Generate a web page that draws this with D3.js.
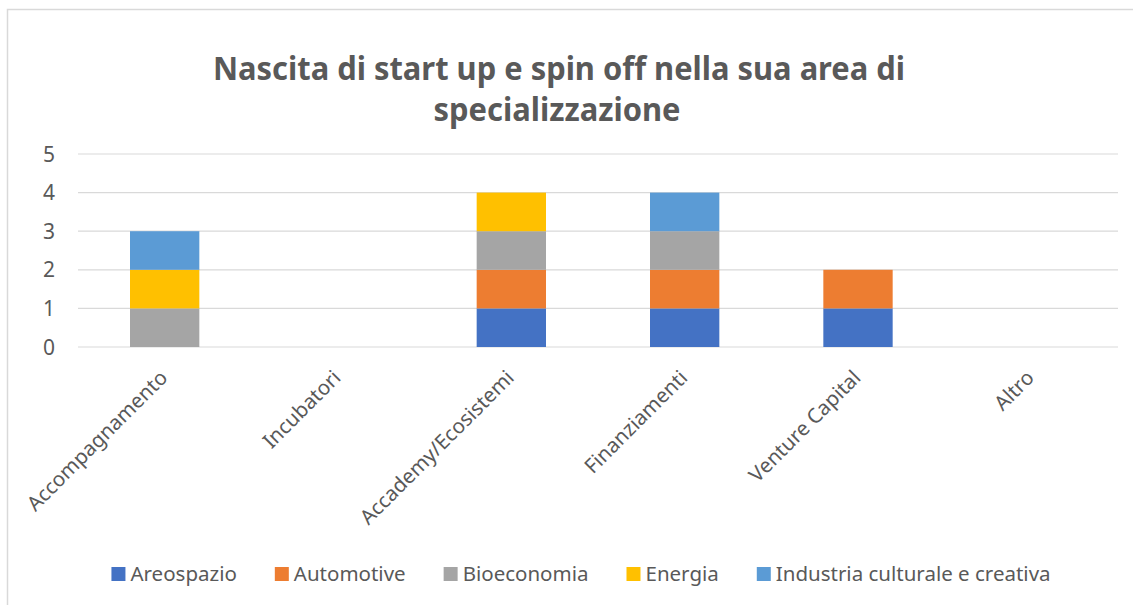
<!DOCTYPE html>
<html>
<head>
<meta charset="utf-8">
<script src="https://cdn.jsdelivr.net/npm/d3@7"></script>
<style>
  html, body { margin: 0; padding: 0; background: #fff; }
  svg { display: block; }
  text { font-family: "Noto Sans", "Open Sans", sans-serif; fill: #595959; }
</style>
</head>
<body>
<svg id="chart" width="1133" height="605"></svg>
<script>
const titleLines = ["Nascita di start up e spin off nella sua area di", "specializzazione"];
const categories = ["Accompagnamento", "Incubatori", "Accademy/Ecosistemi", "Finanziamenti", "Venture Capital", "Altro"];
const seriesNames = ["Areospazio", "Automotive", "Bioeconomia", "Energia", "Industria culturale e creativa"];
const areospazio = [0, 0, 1, 1, 1, 0];
const automotive = [0, 0, 1, 1, 1, 0];
const bioeconomia = [1, 0, 1, 1, 0, 0];
const energia = [1, 0, 1, 0, 0, 0];
const industria = [1, 0, 0, 1, 0, 0];
const yTicks = [0, 1, 2, 3, 4, 5];
const colors = ["#4472C4", "#ED7D31", "#A5A5A5", "#FFC000", "#5B9BD5"];

const seriesValues = [areospazio, automotive, bioeconomia, energia, industria];
const rows = categories.map((c, i) => {
  const r = { cat: c };
  seriesNames.forEach((s, j) => { r[s] = seriesValues[j][i]; });
  return r;
});

const svg = d3.select("#chart");

// outer frame
svg.append("rect")
  .attr("x", 7.5).attr("y", 9.5)
  .attr("width", 1140).attr("height", 610)
  .attr("fill", "#fff")
  .attr("stroke", "#d9d9d9").attr("stroke-width", 1.5);

const plot = { left: 78, right: 1118, top: 154, bottom: 347 };

const x = d3.scaleBand().domain(categories).range([plot.left, plot.right]).paddingInner(0.6).paddingOuter(0.3);
const y = d3.scaleLinear().domain([0, 5]).range([plot.bottom, plot.top]);

// gridlines
svg.append("g").selectAll("line").data(yTicks).join("line")
  .attr("x1", plot.left).attr("x2", plot.right)
  .attr("y1", d => y(d)).attr("y2", d => y(d))
  .attr("stroke", "#d9d9d9").attr("stroke-width", 1.2);

// y tick labels
svg.append("g").selectAll("text").data(yTicks).join("text")
  .attr("x", 55).attr("y", d => y(d))
  .attr("dy", "0.36em")
  .attr("text-anchor", "end")
  .style("font-size", "21px")
  .text(d => d);

// stacked bars
const stack = d3.stack().keys(seriesNames)(rows);
svg.append("g").selectAll("g").data(stack).join("g")
  .attr("fill", (d, i) => colors[i])
  .selectAll("rect").data(d => d.filter(s => s[1] - s[0] > 0)).join("rect")
  .attr("x", d => x(d.data.cat))
  .attr("width", x.bandwidth())
  .attr("y", d => y(d[1]))
  .attr("height", d => y(d[0]) - y(d[1]));

// category labels
svg.append("g").selectAll("text").data(categories).join("text")
  .attr("text-anchor", "end")
  .attr("transform", d => `translate(${x(d) + x.bandwidth() / 2 + 4},${379}) rotate(-45)`)
  .style("font-size", "20.5px")
  .text(d => d);

// title
const title = svg.append("g");
const tl1 = title.append("text")
  .attr("x", 559).attr("y", 80)
  .attr("text-anchor", "middle")
  .style("font-size", "32px").style("font-weight", "bold")
  .text(titleLines[0]);
const tl2 = title.append("text")
  .attr("x", 557).attr("y", 121)
  .attr("text-anchor", "middle")
  .style("font-size", "32px").style("font-weight", "bold")
  .text(titleLines[1]);
[[tl1, 692], [tl2, 247]].forEach(([t, w]) => {
  const nat = t.node().getComputedTextLength();
  if (nat > w) t.attr("textLength", w).attr("lengthAdjust", "spacingAndGlyphs");
});

// legend
const legend = svg.append("g");
const items = legend.selectAll("g").data(seriesNames).join("g");
items.append("rect")
  .attr("width", 14).attr("height", 14)
  .attr("y", 567)
  .attr("fill", (d, i) => colors[i]);
items.append("text")
  .attr("x", 19).attr("y", 581)
  .style("font-size", "20.5px")
  .text(d => d);
let cx = 0;
const positions = [];
items.each(function () {
  const w = d3.select(this).select("text").node().getComputedTextLength();
  positions.push(cx);
  cx += 19 + w + 38;
});
const totalW = cx - 38;
const startX = 581 - totalW / 2;
items.attr("transform", (d, i) => `translate(${startX + positions[i]},0)`);
</script>
</body>
</html>
